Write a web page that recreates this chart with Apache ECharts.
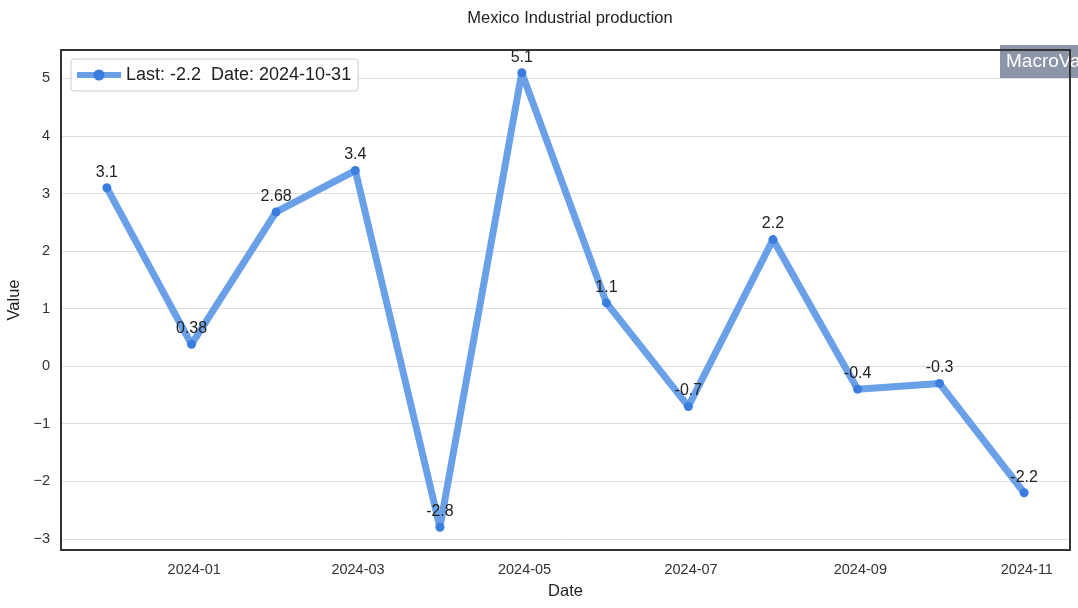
<!DOCTYPE html>
<html>
<head>
<meta charset="utf-8">
<script src="https://cdn.jsdelivr.net/npm/echarts@6/dist/echarts.min.js"></script>
<style>html,body{margin:0;padding:0;background:#fff}#c{width:1078px;height:608px}</style>
</head>
<body>
<div id="c"></div>
<script>
const dates = ['2023-11-30','2023-12-31','2024-01-31','2024-02-29','2024-03-31','2024-04-30','2024-05-31','2024-06-30','2024-07-31','2024-08-31','2024-09-30','2024-10-31'];
const values = [3.1, 0.38, 2.68, 3.4, -2.8, 5.1, 1.1, -0.7, 2.2, -0.4, -0.3, -2.2];
const xTickLabels = ['2024-01','2024-03','2024-05','2024-07','2024-09','2024-11'];
const yTicks = [-3,-2,-1,0,1,2,3,4,5];

const ts = s => { const p = s.split('-').map(Number); return Date.UTC(p[0], p[1]-1, p[2] || 1); };
const xs = dates.map(ts);
const span = xs[xs.length-1] - xs[0];
const xMin = xs[0] - span*0.05, xMax = xs[xs.length-1] + span*0.05;
const vmin = Math.min(...values), vmax = Math.max(...values);
const vr = vmax - vmin;
const yMin = vmin - vr*0.05, yMax = vmax + vr*0.05;
const legendName = 'Last: ' + values[values.length-1] + '  Date: ' + dates[dates.length-1];

const chart = echarts.init(document.getElementById('c'));
chart.setOption({
  animation: false,
  backgroundColor: '#fff',
  textStyle: {fontFamily: 'Arial, "Liberation Sans", sans-serif'},
  title: {
    text: 'Mexico Industrial production', left: 565, top: 5, textAlign: 'center',
    textStyle: {fontSize: 16.5, fontWeight: 'normal', color: '#222'}
  },
  grid: {left: 61, top: 50, right: 8, bottom: 58, show: true, borderColor: '#333', borderWidth: 2, z: 10,
    outerBoundsMode: 'none', containLabel: false},
  legend: {
    left: 71, top: 59, padding: [7, 7, 7, 3],
    backgroundColor: '#fff', borderColor: '#cccccc', borderWidth: 1, borderRadius: 3,
    itemWidth: 44, itemHeight: 14, itemGap: 6,
    textStyle: {fontSize: 18, color: '#222'},
    lineStyle: {width: 6},
    data: [{name: legendName}]
  },
  xAxis: {
    type: 'value', min: xMin, max: xMax,
    name: 'Date', nameLocation: 'middle', nameGap: 33,
    nameTextStyle: {fontSize: 16.5, color: '#222'},
    axisLine: {show: false}, axisTick: {show: false},
    splitLine: {show: false},
    axisLabel: {
      customValues: xTickLabels.map(ts),
      formatter: v => { const d = new Date(v); return d.getUTCFullYear() + '-' + String(d.getUTCMonth()+1).padStart(2,'0'); },
      fontSize: 14.5, color: '#333', margin: 12
    }
  },
  yAxis: {
    type: 'value', min: yMin, max: yMax,
    name: 'Value', nameLocation: 'middle', nameGap: 37, nameRotate: 90,
    nameTextStyle: {fontSize: 16.5, color: '#222'},
    axisLine: {show: false}, axisTick: {show: false, customValues: yTicks},
    axisLabel: {customValues: yTicks, fontSize: 14.5, color: '#333', margin: 11,
      formatter: v => String(v).replace('-', '\u2212')},
    splitLine: {show: true, lineStyle: {color: '#dddddd', width: 1}}
  },
  graphic: [{
    type: 'text', left: 1000, top: 45, z: 5,
    style: {text: 'MacroVar', fill: '#fff', fontSize: 19, fontFamily: 'Arial, "Liberation Sans", sans-serif',
      backgroundColor: '#8c96a8', padding: [7, 6, 7, 6]}
  }],
  series: [{
    name: legendName, type: 'line',
    data: xs.map((x, i) => [x, values[i]]),
    symbol: 'circle', symbolSize: 9,
    lineStyle: {color: '#6aa0e8', width: 7},
    itemStyle: {color: '#3a7ddf'},
    label: {show: true, position: 'top', distance: 3, fontSize: 16, color: '#222',
      formatter: p => String(p.value[1])},
    z: 3
  }]
});
</script>
</body>
</html>
